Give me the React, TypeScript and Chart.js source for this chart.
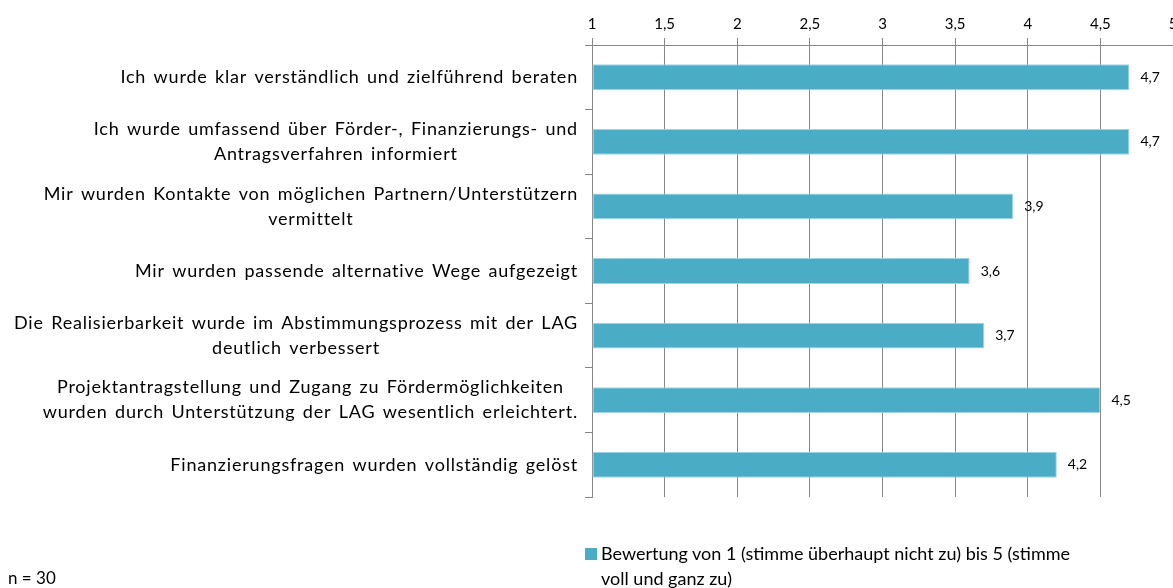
import React, { useEffect, useRef } from "react";
import { Chart, registerables } from "chart.js";

Chart.register(...registerables);

const categories: string[][] = [
  ["Ich wurde klar verständlich und zielführend beraten"],
  ["Ich wurde umfassend über Förder-, Finanzierungs- und", "Antragsverfahren informiert"],
  ["Mir wurden Kontakte von möglichen Partnern/Unterstützern", "vermittelt"],
  ["Mir wurden passende alternative Wege aufgezeigt"],
  ["Die Realisierbarkeit wurde im Abstimmungsprozess mit der LAG", "deutlich verbessert"],
  ["Projektantragstellung und Zugang zu Fördermöglichkeiten", "wurden durch Unterstützung der LAG wesentlich erleichtert."],
  ["Finanzierungsfragen wurden vollständig gelöst"],
];
const values: number[] = [4.7, 4.7, 3.9, 3.6, 3.7, 4.5, 4.2];
const legendLines: string[] = [
  "Bewertung von 1 (stimme überhaupt nicht zu) bis 5 (stimme",
  "voll und ganz zu)",
];
const axisMin = 1;
const axisMax = 5;
const axisStep = 0.5;
const sampleNote = "n = 30";

const FONT = "Lato, 'Open Sans', sans-serif";
const BAR_COLOR = "#4bacc6";
const GRID_COLOR = "#868686";

const fmt = (v: number) => String(v).replace(".", ",");

const labelPlugin = {
  id: "customLabels",
  afterDatasetsDraw(chart: any) {
    const ctx = chart.ctx;
    const yScale = chart.scales.y;
    ctx.save();
    // category labels
    ctx.fillStyle = "#000";
    ctx.font = `18px ${FONT}`;
    try {
      ctx.letterSpacing = "0.8px";
      ctx.wordSpacing = "2px";
    } catch (e) {}
    ctx.textAlign = "center";
    ctx.textBaseline = "middle";
    const lh = 25;
    categories.forEach((lines, i) => {
      const y = yScale.getPixelForValue(i);
      const maxW = Math.max(...lines.map((l) => ctx.measureText(l).width));
      const cx = 578 - maxW / 2;
      lines.forEach((l, j) => {
        ctx.fillText(l, cx, y + (j - (lines.length - 1) / 2) * lh);
      });
    });
    try {
      ctx.letterSpacing = "0px";
      ctx.wordSpacing = "0px";
    } catch (e) {}
    // data labels
    const meta = chart.getDatasetMeta(0);
    ctx.font = `14px ${FONT}`;
    ctx.textAlign = "left";
    meta.data.forEach((bar: any, i: number) => {
      ctx.fillText(fmt(values[i]), bar.x + 11, bar.y);
    });
    ctx.restore();
  },
};

export default function App() {
  const ref = useRef<HTMLCanvasElement | null>(null);
  useEffect(() => {
    if (!ref.current) return;
    const chart = new Chart(ref.current, {
      type: "bar",
      data: {
        labels: categories.map((c) => c.join(" ")),
        datasets: [
          {
            label: legendLines.join(" "),
            data: values,
            base: axisMin,
            backgroundColor: BAR_COLOR,
            borderColor: "#9fd4e3",
            borderWidth: 1,
            borderSkipped: false,
            barPercentage: 0.4,
            categoryPercentage: 1,
          } as any,
        ],
      },
      options: {
        indexAxis: "y",
        responsive: false,
        animation: false,
        devicePixelRatio: 1,
        layout: { padding: { left: 0, right: 17, top: 0, bottom: 91 } },
        plugins: {
          legend: { display: false },
          tooltip: { enabled: false },
        },
        scales: {
          x: {
            position: "top",
            min: axisMin,
            max: axisMax,
            afterFit: (s: any) => {
              s.height = 45;
            },
            ticks: {
              stepSize: axisStep,
              color: "#000",
              font: { family: FONT, size: 15 },
              padding: 5,
              maxRotation: 0,
              callback: (v: any) => fmt(Number(v)),
            },
            grid: { color: GRID_COLOR, tickLength: 7, lineWidth: 1 },
            border: { color: GRID_COLOR },
          },
          y: {
            afterFit: (s: any) => {
              s.width = 592;
            },
            ticks: { display: false },
            grid: {
              drawOnChartArea: false,
              offset: true,
              tickLength: 7,
              color: GRID_COLOR,
            },
            border: { color: GRID_COLOR },
          },
        },
      },
      plugins: [labelPlugin],
    });
    return () => chart.destroy();
  }, []);

  return (
    <div
      style={{
        position: "fixed",
        left: 0,
        top: 0,
        width: 1173,
        height: 588,
        overflow: "hidden",
        background: "#fff",
        fontFamily: FONT,
      }}
    >
      <canvas ref={ref} width={1190} height={588} style={{ position: "absolute", left: 0, top: 0 }} />
      <div
        style={{
          position: "absolute",
          left: 585,
          top: 548,
          width: 12,
          height: 12,
          background: BAR_COLOR,
        }}
      />
      <div
        style={{
          position: "absolute",
          left: 601,
          top: 541,
          fontSize: 18,
          lineHeight: "25px",
          color: "#000",
          whiteSpace: "nowrap",
        }}
      >
        {legendLines[0]}
        <br />
        {legendLines[1]}
      </div>
      <div
        style={{
          position: "absolute",
          left: 8,
          top: 566,
          fontSize: 17,
          lineHeight: "24px",
          color: "#000",
        }}
      >
        {sampleNote}
      </div>
    </div>
  );
}
